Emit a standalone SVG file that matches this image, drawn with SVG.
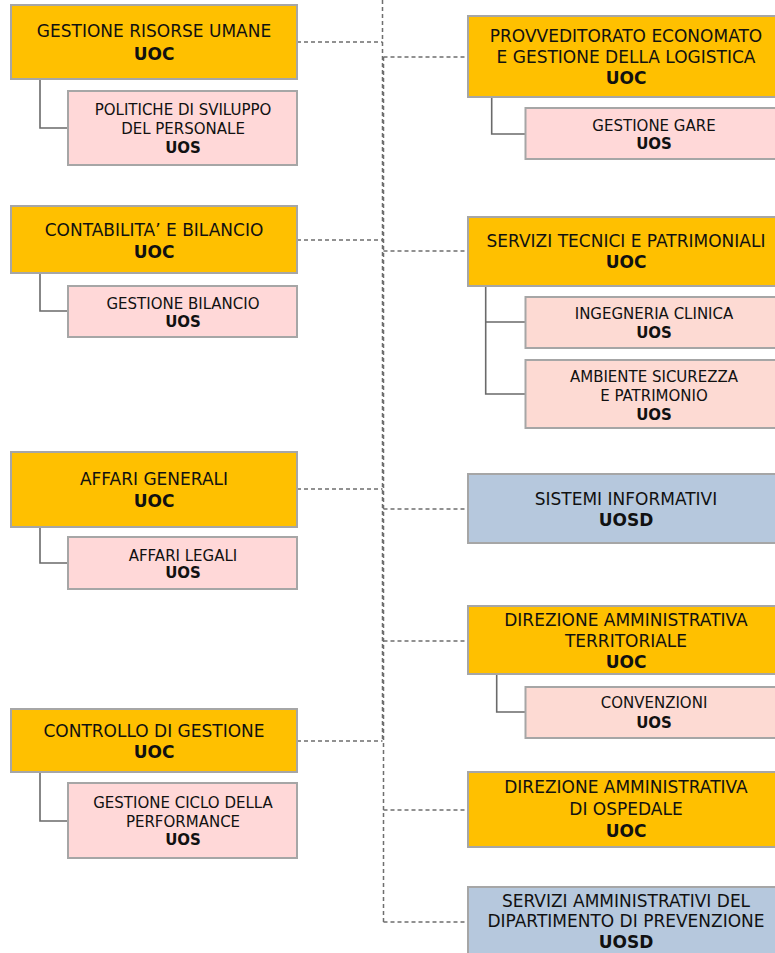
<svg xmlns="http://www.w3.org/2000/svg" width="775" height="953" viewBox="0 0 775 953">
  <style>
    .uoc { fill: #FFC000; stroke: #A6A6A6; stroke-width: 2; }
    .uos { fill: #FFD8D8; stroke: #A6A6A6; stroke-width: 2; }
    .uos2 { fill: #FDDAD3; stroke: #A6A6A6; stroke-width: 2; }
    .uosd { fill: #B6C8DD; stroke: #A6A6A6; stroke-width: 2; }
    text { font-family: "DejaVu Sans", Verdana, sans-serif; fill: #111; text-anchor: middle; }
    .t { font-size: 17px; }
    .s { font-size: 15px; }
    .b { font-weight: bold; }
    .dash { fill: none; stroke: #6E6E6E; stroke-width: 1.5; stroke-dasharray: 4 3; }
    .elbow { fill: none; stroke: #6A6A6A; stroke-width: 1.6; }
  </style>

  <!-- dotted trunk and branches -->
  <g id="connectors">
    <path class="dash" d="M382.5 0 V741"/>
    <path class="dash" d="M383.5 57 V922"/>
    <path class="dash" d="M297 42 H382.5"/>
    <path class="dash" d="M297 240 H382.5"/>
    <path class="dash" d="M297 489 H382.5"/>
    <path class="dash" d="M297 741 H382.5"/>
    <path class="dash" d="M383.5 57 H468"/>
    <path class="dash" d="M383.5 251 H468"/>
    <path class="dash" d="M383.5 509 H468"/>
    <path class="dash" d="M383.5 641 H468"/>
    <path class="dash" d="M383.5 810 H468"/>
    <path class="dash" d="M383.5 922 H468"/>
    <!-- solid elbows to sub-units -->
    <path class="elbow" d="M40 79 V128 H68"/>
    <path class="elbow" d="M40 273 V311 H68"/>
    <path class="elbow" d="M40 527 V563 H68"/>
    <path class="elbow" d="M40 772 V821 H68"/>
    <path class="elbow" d="M491.7 97 V134 H525.5"/>
    <path class="elbow" d="M485.7 286 V394 H525.5 M485.7 322 H525.5"/>
    <path class="elbow" d="M496.7 674 V712 H525.5"/>
  </g>

  <!-- left column -->
  <g id="risorse-umane">
    <rect class="uoc" x="11" y="5" width="286" height="74"/>
    <text class="t" x="154" y="37">GESTIONE RISORSE UMANE</text>
    <text class="t b" x="154" y="60">UOC</text>
  </g>
  <g id="sviluppo-personale">
    <rect class="uos" x="68" y="91" width="229" height="74"/>
    <text class="s" x="183" y="115">POLITICHE DI SVILUPPO</text>
    <text class="s" x="183" y="134">DEL PERSONALE</text>
    <text class="s b" x="183" y="153">UOS</text>
  </g>

  <g id="contabilita">
    <rect class="uoc" x="11" y="206" width="286" height="67"/>
    <text class="t" x="154" y="236">CONTABILITA’ E BILANCIO</text>
    <text class="t b" x="154" y="258">UOC</text>
  </g>
  <g id="gestione-bilancio">
    <rect class="uos" x="68" y="286" width="229" height="51"/>
    <text class="s" x="183" y="309">GESTIONE BILANCIO</text>
    <text class="s b" x="183" y="327">UOS</text>
  </g>

  <g id="affari-generali">
    <rect class="uoc" x="11" y="452" width="286" height="75"/>
    <text class="t" x="154" y="485">AFFARI GENERALI</text>
    <text class="t b" x="154" y="507">UOC</text>
  </g>
  <g id="affari-legali">
    <rect class="uos" x="68" y="537" width="229" height="52"/>
    <text class="s" x="183" y="561">AFFARI LEGALI</text>
    <text class="s b" x="183" y="578">UOS</text>
  </g>

  <g id="controllo-gestione">
    <rect class="uoc" x="11" y="709" width="286" height="63"/>
    <text class="t" x="154" y="737">CONTROLLO DI GESTIONE</text>
    <text class="t b" x="154" y="758">UOC</text>
  </g>
  <g id="ciclo-performance">
    <rect class="uos" x="68" y="783" width="229" height="75"/>
    <text class="s" x="183" y="808">GESTIONE CICLO DELLA</text>
    <text class="s" x="183" y="827">PERFORMANCE</text>
    <text class="s b" x="183" y="845">UOS</text>
  </g>

  <!-- right column -->
  <g id="provveditorato">
    <rect class="uoc" x="468" y="16" width="317" height="81"/>
    <text class="t" x="626" y="42">PROVVEDITORATO ECONOMATO</text>
    <text class="t" x="626" y="63">E GESTIONE DELLA LOGISTICA</text>
    <text class="t b" x="626" y="84">UOC</text>
  </g>
  <g id="gestione-gare">
    <rect class="uos" x="525.5" y="108" width="260" height="51"/>
    <text class="s" x="654" y="131">GESTIONE GARE</text>
    <text class="s b" x="654" y="149">UOS</text>
  </g>

  <g id="servizi-tecnici">
    <rect class="uoc" x="468" y="217" width="317" height="69"/>
    <text class="t" x="626" y="247">SERVIZI TECNICI E PATRIMONIALI</text>
    <text class="t b" x="626" y="268">UOC</text>
  </g>
  <g id="ingegneria-clinica">
    <rect class="uos2" x="525.5" y="297" width="260" height="51"/>
    <text class="s" x="654" y="319">INGEGNERIA CLINICA</text>
    <text class="s b" x="654" y="338">UOS</text>
  </g>
  <g id="ambiente-sicurezza">
    <rect class="uos2" x="525.5" y="360" width="260" height="68"/>
    <text class="s" x="654" y="382">AMBIENTE SICUREZZA</text>
    <text class="s" x="654" y="401">E PATRIMONIO</text>
    <text class="s b" x="654" y="420">UOS</text>
  </g>

  <g id="sistemi-informativi">
    <rect class="uosd" x="468" y="474" width="317" height="69"/>
    <text class="t" x="626" y="505">SISTEMI INFORMATIVI</text>
    <text class="t b" x="626" y="526">UOSD</text>
  </g>

  <g id="dir-amm-territoriale">
    <rect class="uoc" x="468" y="606" width="317" height="68"/>
    <text class="t" x="626" y="626">DIREZIONE AMMINISTRATIVA</text>
    <text class="t" x="626" y="647">TERRITORIALE</text>
    <text class="t b" x="626" y="668">UOC</text>
  </g>
  <g id="convenzioni">
    <rect class="uos2" x="525.5" y="687" width="260" height="51"/>
    <text class="s" x="654" y="708">CONVENZIONI</text>
    <text class="s b" x="654" y="728">UOS</text>
  </g>

  <g id="dir-amm-ospedale">
    <rect class="uoc" x="468" y="772" width="317" height="75"/>
    <text class="t" x="626" y="793">DIREZIONE AMMINISTRATIVA</text>
    <text class="t" x="626" y="815">DI OSPEDALE</text>
    <text class="t b" x="626" y="837">UOC</text>
  </g>

  <g id="servizi-prevenzione">
    <rect class="uosd" x="468" y="887" width="317" height="80"/>
    <text class="t" x="626" y="907">SERVIZI AMMINISTRATIVI DEL</text>
    <text class="t" x="626" y="927">DIPARTIMENTO DI PREVENZIONE</text>
    <text class="t b" x="626" y="948">UOSD</text>
  </g>
</svg>
